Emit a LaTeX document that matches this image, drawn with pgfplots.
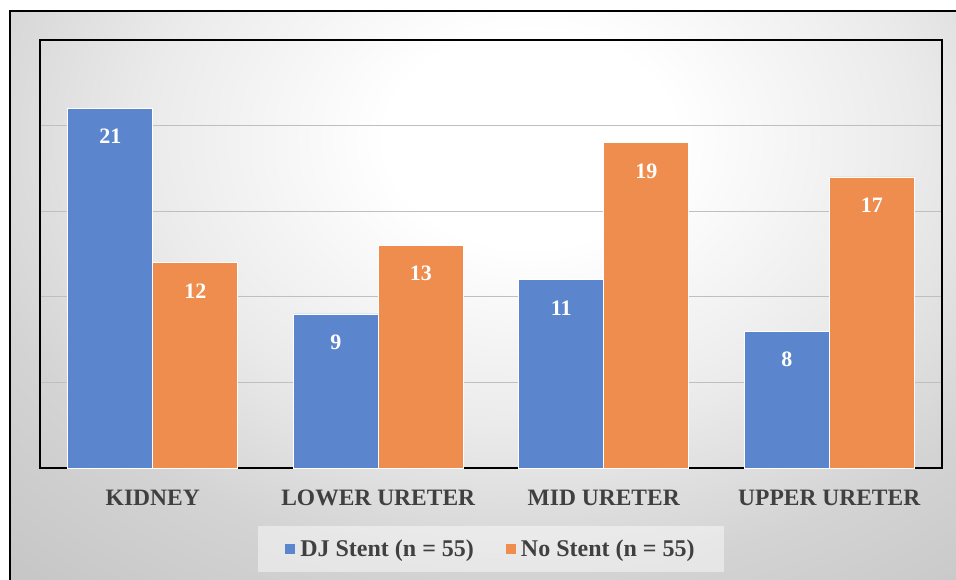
\documentclass[border=0pt]{standalone}
\usepackage{pgfplots}
\pgfplotsset{compat=1.18}
\usepackage{fontspec}
\setmainfont{Liberation Serif}
\definecolor{bblue}{RGB}{91,134,206}
\definecolor{borange}{RGB}{238,141,78}
\definecolor{txt}{RGB}{64,64,64}
\pgfdeclareradialshading{bgshade}{\pgfpoint{0bp}{0bp}}{color(0bp)=(white); color(6bp)=(white); color(16bp)=(black!8); color(24bp)=(black!17); color(32bp)=(black!22); color(50bp)=(black!24)}
\begin{document}
\begin{tikzpicture}
\useasboundingbox (0pt,0pt) rectangle (956pt,579pt);
\begin{scope}
\clip (0pt,0pt) rectangle (956pt,579pt);
\fill[white] (0pt,0pt) rectangle (956pt,579pt);
\begin{scope}
\clip (10pt,-20pt) rectangle (990pt,568pt);
\shade[shading=bgshade] (-70pt,-10pt) rectangle (1130pt,890pt);
\end{scope}
\draw[line width=1.5pt] (10pt,-20pt) rectangle (990pt,568pt);
\end{scope}
\begin{axis}[at={(40pt,111pt)}, anchor=south west, scale only axis,
  width=902pt, height=428pt,
  ybar=0pt, bar width=85pt,
  xmin=-0.5, xmax=3.5, ymin=0, ymax=25,
  xtick={0,1,2,3},
  xticklabels={KIDNEY, LOWER URETER, MID URETER, UPPER URETER},
  xticklabel style={font=\fontsize{23.5}{25}\selectfont\bfseries, text=txt, anchor=base, yshift=-37pt},
  major tick length=0pt,
  ytick={5,10,15,20}, yticklabels={},
  ymajorgrids, grid style={black!25, line width=1.2pt},
  axis line style={line width=1.6pt},
  nodes near coords={\pgfmathprintnumber[assume math mode=true]{\pgfplotspointmeta}},
  nodes near coords style={font=\fontsize{22}{24}\selectfont\bfseries, text=white, anchor=base, yshift=-35.5pt},
  legend columns=2,
  legend style={at={(0.5,0)}, anchor=center, yshift=-81pt, fill=white, fill opacity=0.45, text opacity=1, draw=none,
    font=\fontsize{24}{26}\selectfont\bfseries, text=txt, inner xsep=27pt, inner ysep=12pt,
    /tikz/every odd column/.append style={column sep=3pt},
    /tikz/every even column/.append style={column sep=30pt}},
  legend image code/.code={\fill[#1, fill opacity=1, draw=none] (0pt,-5pt) rectangle (10pt,5pt);},
]
\addplot[fill=bblue, draw=white, line width=0.8pt] coordinates {(0,21) (1,9) (2,11) (3,8)};
\addplot[fill=borange, draw=white, line width=0.8pt] coordinates {(0,12) (1,13) (2,19) (3,17)};
\legend{DJ Stent (n = 55), No Stent (n = 55)}
\end{axis}
\end{tikzpicture}
\end{document}
